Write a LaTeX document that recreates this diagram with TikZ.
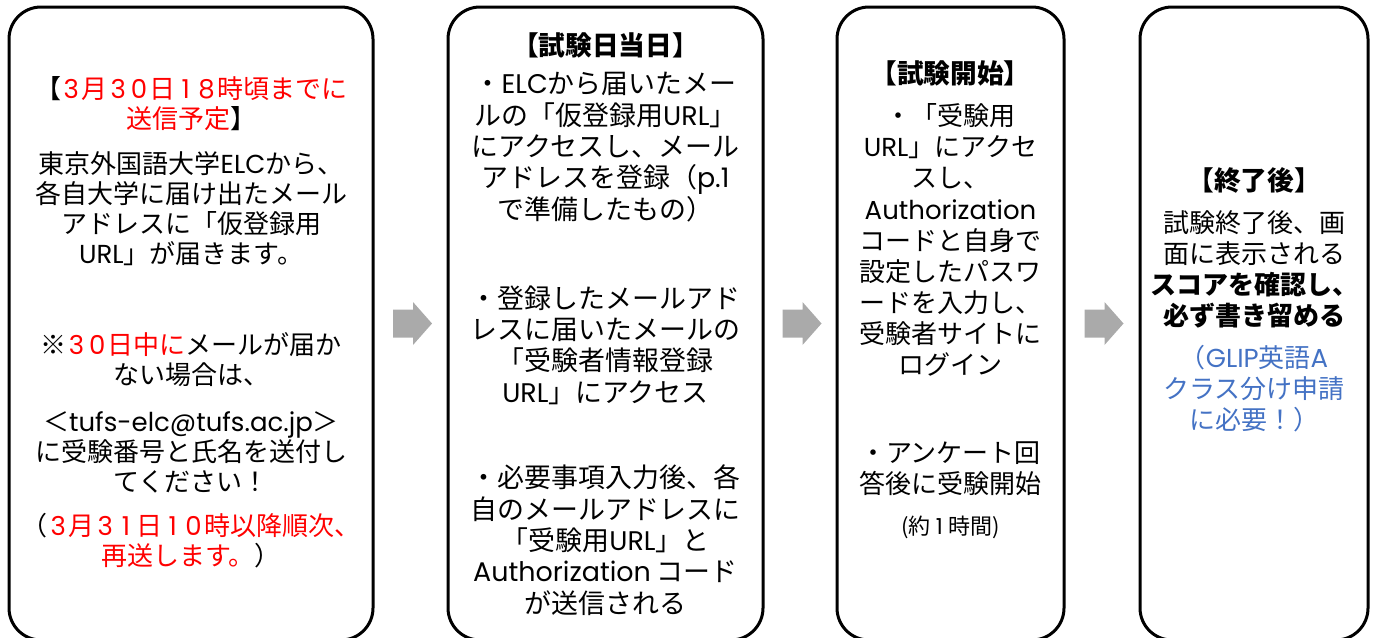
\documentclass[tikz,border=0pt]{standalone}
\usepackage{fontspec}
\setmainfont{Noto Sans CJK JP}
\newfontfamily\latfont{Poppins}
\usetikzlibrary{calc}
\definecolor{redt}{RGB}{255,0,0}
\definecolor{bluet}{RGB}{68,114,196}
\definecolor{arrowgray}{RGB}{170,170,170}
\newcommand\E[1]{{\latfont #1}}
\newcommand\D[1]{\makebox[0.8em]{\latfont #1}}
\newcommand\R[1]{\textcolor{redt}{#1}}
\tikzset{
  boxst/.style={draw=black, line width=2.25pt, rounded corners=24pt, rectangle,
    minimum height=474.75pt, inner sep=0pt},
  txt/.style={inner sep=0pt, align=center, font=\fontsize{19.5pt}{22.5pt}\selectfont},
  txtb/.style={inner sep=0pt, align=center, font=\fontsize{20.2pt}{23.5pt}\selectfont},
  txtc/.style={inner sep=0pt, align=center, font=\fontsize{19.5pt}{23.3pt}\selectfont},
  ttl/.style={inner sep=0pt, align=center, font=\fontsize{20pt}{23pt}\selectfont\bfseries},
  blockarrow/.pic={
    \fill[arrowgray] (-19.5,-14) -- (0.5,-14) -- (0.5,-21.5) -- (19.5,0)
      -- (0.5,21.5) -- (0.5,14) -- (-19.5,14) -- cycle;
  }
}
\begin{document}
\begin{tikzpicture}[x=0.75pt,y=-0.75pt]
\useasboundingbox (0,0) rectangle (1376,637);
% boxes
\node (b1) [boxst, minimum width=273pt] at (191,323.5) {};
\node (b2) [boxst, minimum width=236.25pt] at (605.5,323.5) {};
\node (b3) [boxst, minimum width=170.25pt] at (950.5,323.5) {};
\node (b4) [boxst, minimum width=171pt] at (1254,323.5) {};
% arrows
\coordinate (a1) at ($(b1.east)!0.5!(b2.west)+(2,0)$);
\coordinate (a2) at ($(b2.east)!0.5!(b3.west)+(2,0)$);
\coordinate (a3) at ($(b3.east)!0.5!(b4.west)+(2,0)$);
\pic at (a1) {blockarrow};
\pic at (a2) {blockarrow};
\pic at (a3) {blockarrow};
% box 1
\node (t1a) [txt] at (191,104) {【\R{\D3月\D3\D0日\D1\D8時頃までに}\\\R{送信予定}】};
\node (t1b) [txt] at (191,209) {東京外国語大学\E{ELC}から、\\各自大学に届け出たメール\\アドレスに「仮登録用\\\E{URL}」が届きます。};
\node (t1c) [txt] at (191,360) {※\R{\D3\D0日中に}メールが届か\\ない場合は、};
\node (t1d) [txt] at (191,452) {＜\E{tufs-elc@tufs.ac.jp}＞\\に受験番号と氏名を送付し\\てください！};
\node (t1e) [txt] at (191,541) {（\R{\D3月\D3\D1日\D1\D0時以降順次、}\\\R{再送します。}）};
% box 2
\node (t2a) [ttl] at (605.5,45) {【試験日当日】};
\node (t2b) [txtb] at (605.5,147) {・\E{ELC}から届いたメー\\ルの「仮登録用\E{URL}」\\にアクセスし、メール\\アドレスを登録（\E{p.1}\\で準備したもの）};
\node (t2c) [txtb] at (605.5,345) {・登録したメールアド\\レスに届いたメールの\\「受験者情報登録\\\E{URL}」にアクセス};
\node (t2d) [txtb] at (605.5,540) {・必要事項入力後、各\\自のメールアドレスに\\「受験用\E{URL}」と\\\E{Authorization} コード\\が送信される};
% box 3
\node (t3a) [ttl] at (950.5,73) {【試験開始】};
\node (t3b) [txtc] at (950.5,240) {・「受験用\\\E{URL}」にアクセ\\スし、\\\E{Authorization}\\コードと自身で\\設定したパスワ\\ードを入力し、\\受験者サイトに\\ログイン};
\node (t3c) [txtc] at (950.5,469) {・アンケート回\\答後に受験開始};
\node (t3d) [inner sep=0pt, font=\fontsize{16.5pt}{20pt}\selectfont] at (950.5,527) {(約\D1時間)};
% box 4
\node (t4a) [ttl] at (1254,180) {【終了後】};
\node (t4b) [txtc] at (1254,269) {試験終了後、画\\面に表示される\\\textbf{スコアを確認し、}\\\textbf{必ず書き留める}};
\node (t4c) [txtc, text=bluet] at (1254,389) {（\E{GLIP}英語\E{A}\\クラス分け申請\\に必要！）};
\end{tikzpicture}
\end{document}
